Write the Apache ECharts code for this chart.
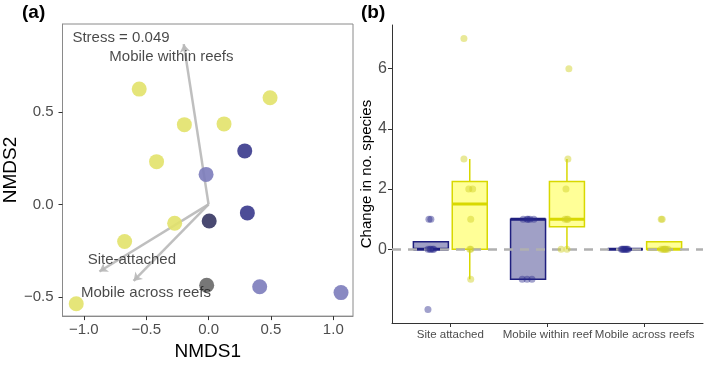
<!DOCTYPE html>
<html>
<head>
<meta charset="utf-8">
<style>
  html, body { margin: 0; padding: 0; background: #fff; }
  #chart { width: 709px; height: 366px; }
</style>
<script src="https://cdn.jsdelivr.net/npm/echarts@6/dist/echarts.min.js"></script>
</head>
<body>
<div id="chart"></div>
<script>
// ---- panel (a): NMDS ordination ----
const nmdsX = [-0.556, 0.493, -0.194, 0.124, -0.417, -0.272, -0.673, -1.061, 0.29, 0.311, 0.005, -0.02, 0.41, 1.062, -0.015];
const nmdsY = [0.623, 0.576, 0.431, 0.435, 0.231, -0.102, -0.201, -0.537, 0.289, -0.046, -0.09, 0.162, -0.445, -0.477, -0.437];
const nmdsGroup = ['y', 'y', 'y', 'y', 'y', 'y', 'y', 'y', 'navy', 'navy', 'dark', 'light', 'light', 'light', 'grey'];
const groupColors = { y: '#e2e26a', navy: '#38388c', dark: '#353562', light: '#7c7cbb', grey: '#686868' };

const vectorNames = ['Mobile within reefs', 'Site-attached', 'Mobile across reefs'];
const vectorX = [-0.199, -0.875, -0.601];
const vectorY = [0.866, -0.363, -0.414];
// label anchor points (data units)
const labelX = [-0.298, -0.615, -0.502];
const labelY = [0.799, -0.301, -0.477];
const stressText = 'Stress = 0.049';
const stressPos = [-0.702, 0.898];

const nmdsTicks = [-1, -0.5, 0, 0.5, 1];
const nmdsYTicks = [-0.5, 0, 0.5];

// ---- panel (b): change in number of species ----
const categories = ['Site attached', 'Mobile within reef', 'Mobile across reefs'];
const blueValues = [
  [-2, 0, 0, 0, 0, 0, 1, 1],
  [-1, -1, -1, 1, 1, 1, 1, 1],
  [0, 0, 0, 0, 0, 0, 0, 0]
];
const yellowValues = [
  [-1, 0, 0, 1, 2, 2, 3, 7],
  [0, 0, 1, 1, 1, 2, 3, 6],
  [0, 0, 0, 0, 0, 0, 1, 1]
];
// horizontal jitter of the points (category units)
const blueJitter = [
  [-0.03, -0.03, -0.01, 0.0, 0.02, 0.03, -0.02, 0.0],
  [-0.06, -0.01, 0.04, -0.05, -0.01, 0.0, 0.02, 0.06],
  [-0.04, -0.02, 0.0, 0.01, 0.03, -0.01, 0.02, -0.03]
];
const yellowJitter = [
  [0.01, 0.01, 0.0, 0.01, -0.01, 0.03, -0.06, -0.06],
  [-0.06, 0.0, -0.02, 0.01, 0.0, -0.01, 0.01, 0.02],
  [-0.03, -0.01, 0.0, 0.02, 0.04, 0.01, -0.02, -0.03]
];
const changeTicks = [0, 2, 4, 6];

const DODGE = 0.2;
const BOX_W = 0.36;

function quantile(sorted, p) {
  const h = (sorted.length - 1) * p;
  const lo = Math.floor(h);
  return sorted[lo] + (h - lo) * ((sorted[lo + 1] ?? sorted[lo]) - sorted[lo]);
}
function boxStats(vals, xc) {
  const s = vals.slice().sort((a, b) => a - b);
  const q1 = quantile(s, 0.25), med = quantile(s, 0.5), q3 = quantile(s, 0.75);
  const iqr = q3 - q1;
  const hi = Math.max(...s.filter(v => v <= q3 + 1.5 * iqr));
  const lo = Math.min(...s.filter(v => v >= q1 - 1.5 * iqr));
  return [xc, q1, med, q3, lo, hi];
}

function boxRenderer(stroke, fill) {
  return function (params, api) {
    const x = api.value(0), q1 = api.value(1), med = api.value(2), q3 = api.value(3), lo = api.value(4), hi = api.value(5);
    const h = BOX_W / 2;
    const tl = api.coord([x - h, q3]);
    const br = api.coord([x + h, q1]);
    const mL = api.coord([x - h, med]);
    const mR = api.coord([x + h, med]);
    const pHi = api.coord([x, hi]), pQ3 = api.coord([x, q3]);
    const pQ1 = api.coord([x, q1]), pLo = api.coord([x, lo]);
    return {
      type: 'group',
      children: [
        { type: 'line', shape: { x1: pHi[0], y1: pHi[1], x2: pQ3[0], y2: Math.max(pQ3[1], pHi[1]) }, style: { stroke: stroke, lineWidth: 1.5 } },
        { type: 'line', shape: { x1: pQ1[0], y1: pQ1[1], x2: pLo[0], y2: Math.max(pLo[1], pQ1[1]) }, style: { stroke: stroke, lineWidth: 1.5 } },
        { type: 'rect', shape: { x: tl[0], y: tl[1], width: br[0] - tl[0], height: br[1] - tl[1] }, style: { fill: fill, stroke: stroke, lineWidth: 1.5 } },
        { type: 'line', shape: { x1: mL[0], y1: mL[1], x2: mR[0], y2: mR[1] }, style: { stroke: stroke, lineWidth: 3 } }
      ]
    };
  };
}

function jitterPoints(values, jitter, side) {
  const out = [];
  values.forEach((vals, i) => {
    vals.forEach((v, j) => out.push([i + 1 + side * DODGE + jitter[i][j], v]));
  });
  return out;
}

const blueBoxes = blueValues.map((v, i) => boxStats(v, i + 1 - DODGE));
const yellowBoxes = yellowValues.map((v, i) => boxStats(v, i + 1 + DODGE));

const FONT = 'Liberation Sans, Arial, sans-serif';
const fmtMinus = v => v.toFixed(1).replace('-', '\u2212');

const nmdsSeries = Object.keys(groupColors).map(g => ({
  type: 'scatter',
  xAxisIndex: 0, yAxisIndex: 0,
  symbolSize: 15,
  z: 3,
  itemStyle: { color: groupColors[g], opacity: 0.9 },
  data: nmdsX.map((x, i) => [x, nmdsY[i], nmdsGroup[i]]).filter(d => d[2] === g)
}));

const chart = echarts.init(document.getElementById('chart'), null, { renderer: 'canvas' });
chart.setOption({
  backgroundColor: '#fff',
  animation: false,
  textStyle: { fontFamily: FONT },
  graphic: [
    { type: 'text', left: 22, top: 3, style: { text: '(a)', font: 'bold 19px ' + FONT, fill: '#000' } },
    { type: 'text', left: 361, top: 3, style: { text: '(b)', font: 'bold 19px ' + FONT, fill: '#000' } }
  ],
  grid: [
    { left: 53, top: 24, width: 300, height: 299, show: true, borderColor: '#8a8a8a', borderWidth: 1, backgroundColor: '#fff' },
    { left: 392, top: 25, width: 311, height: 298 }
  ],
  xAxis: [
    {
      type: 'value', gridIndex: 0, min: -1.171, max: 1.158,
      name: 'NMDS1', nameLocation: 'middle', nameGap: 18,
      nameTextStyle: { fontSize: 19, color: '#000', fontFamily: FONT },
      splitLine: { show: false },
      axisLine: { show: true, onZero: false, lineStyle: { color: '#8a8a8a', width: 1 } },
      axisTick: { show: true, length: 4, customValues: nmdsTicks, lineStyle: { color: '#333' } },
      axisLabel: { customValues: nmdsTicks, formatter: fmtMinus, fontSize: 15, color: '#4d4d4d', margin: 6, fontFamily: FONT }
    },
    {
      type: 'value', gridIndex: 1, min: 0.4, max: 3.6,
      splitLine: { show: false },
      axisLine: { show: true, onZero: false, lineStyle: { color: '#333', width: 1 } },
      axisTick: { show: true, length: 4, customValues: [1, 2, 3], lineStyle: { color: '#333' } },
      axisLabel: { customValues: [1, 2, 3], formatter: v => categories[Math.round(v) - 1], fontSize: 11.5, color: '#4d4d4d', margin: 6, fontFamily: FONT }
    }
  ],
  yAxis: [
    {
      type: 'value', gridIndex: 0, min: -0.604, max: 0.975,
      name: 'NMDS2', nameLocation: 'middle', nameGap: 33,
      nameTextStyle: { fontSize: 19, color: '#000', fontFamily: FONT },
      splitLine: { show: false },
      axisLine: { show: true, onZero: false, lineStyle: { color: '#8a8a8a', width: 1 } },
      axisTick: { show: true, length: 4, customValues: nmdsYTicks, lineStyle: { color: '#333' } },
      axisLabel: { customValues: nmdsYTicks, formatter: fmtMinus, fontSize: 15, color: '#4d4d4d', margin: 9, fontFamily: FONT }
    },
    {
      type: 'value', gridIndex: 1, min: -2.45, max: 7.45,
      name: 'Change in no. species', nameLocation: 'middle', nameGap: 16,
      nameTextStyle: { fontSize: 15, color: '#000', fontFamily: FONT },
      splitLine: { show: false },
      axisLine: { show: true, onZero: false, lineStyle: { color: '#333', width: 1 } },
      axisTick: { show: true, length: 4, customValues: changeTicks, lineStyle: { color: '#333' } },
      axisLabel: { customValues: changeTicks, fontSize: 16, color: '#4d4d4d', margin: 5, fontFamily: FONT }
    }
  ],
  series: [
    {
      type: 'lines',
      coordinateSystem: 'cartesian2d',
      xAxisIndex: 0, yAxisIndex: 0,
      z: 2,
      symbol: ['none', 'arrow'],
      symbolSize: 8,
      lineStyle: { color: '#b8b8b8', width: 2.5, opacity: 0.9 },
      data: vectorX.map((x, i) => ({ coords: [[0, 0], [x, vectorY[i]]] }))
    },
    ...nmdsSeries,
    {
      type: 'scatter',
      xAxisIndex: 0, yAxisIndex: 0,
      symbolSize: 0,
      z: 5,
      label: { show: true, position: 'inside', formatter: p => p.data[2], fontSize: 15, color: '#1a1a1a', fontFamily: FONT },
      data: [[stressPos[0], stressPos[1], stressText]].concat(labelX.map((x, i) => [x, labelY[i], vectorNames[i]]))
    },
    {
      type: 'custom',
      xAxisIndex: 1, yAxisIndex: 1,
      z: 2,
      renderItem: boxRenderer('#1f1f7e', 'rgba(150,150,192,0.9)'),
      data: blueBoxes
    },
    {
      type: 'custom',
      xAxisIndex: 1, yAxisIndex: 1,
      z: 2,
      renderItem: boxRenderer('#d8d800', 'rgba(255,255,140,0.9)'),
      data: yellowBoxes
    },
    {
      type: 'line',
      xAxisIndex: 1, yAxisIndex: 1,
      data: [],
      markLine: {
        silent: true, symbol: 'none', z: 3,
        label: { show: false },
        lineStyle: { color: '#b0b0b0', width: 2.5, type: [9, 7] },
        data: [{ yAxis: 0 }]
      }
    },
    {
      type: 'scatter',
      xAxisIndex: 1, yAxisIndex: 1,
      symbolSize: 7, z: 6,
      itemStyle: { color: 'rgba(40,40,140,0.55)' },
      data: jitterPoints(blueValues, blueJitter, -1)
    },
    {
      type: 'scatter',
      xAxisIndex: 1, yAxisIndex: 1,
      symbolSize: 7, z: 6,
      itemStyle: { color: 'rgba(210,210,40,0.6)' },
      data: jitterPoints(yellowValues, yellowJitter, 1)
    }
  ]
});
</script>
</body>
</html>
